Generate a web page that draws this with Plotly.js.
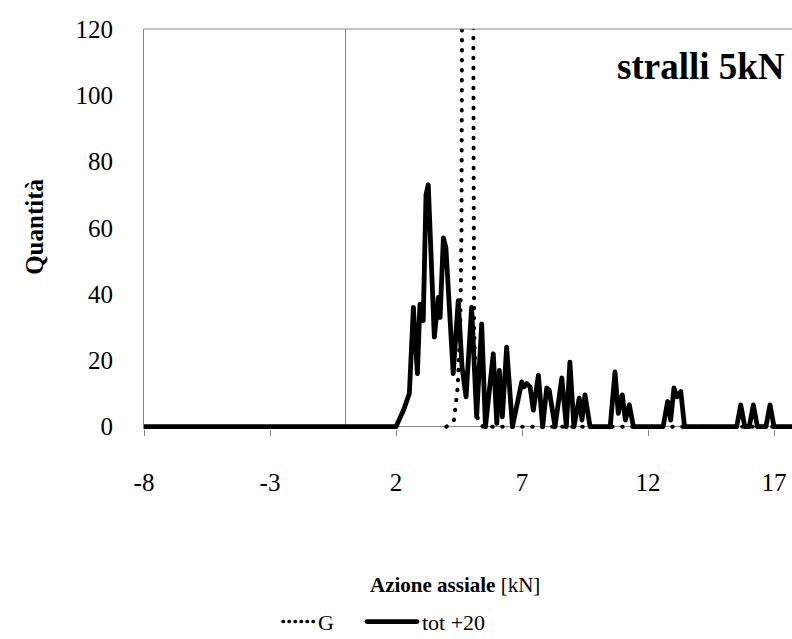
<!DOCTYPE html>
<html><head><meta charset="utf-8">
<script src="https://cdn.plot.ly/plotly-3.0.1.min.js"></script>
<style>
html,body{margin:0;padding:0;background:#fff;overflow:hidden}
path.js-line{stroke-linecap:round;stroke-linejoin:round}
</style>
</head><body>
<div id="chart" style="width:792px;height:639px"></div>
<script>
// Series "G" (dotted)
const gX = [4.0, 4.3, 4.45, 4.55, 4.6, 4.63, 4.65, 4.85, 5.05, 5.07, 5.1, 5.17, 5.25, 5.45, 17.8];
const gY = [0, 2, 12, 30, 60, 110, 600, 900, 600, 110, 30, 10, 2, 0, 0];
// Series "tot +20" (solid)
const totX = [-8, 2.0, 2.3, 2.53, 2.69, 2.85, 2.95, 3.08, 3.19, 3.28, 3.52, 3.68, 3.75, 3.88, 3.98,
  4.27, 4.47, 4.62, 4.78, 5.0, 5.2, 5.4, 5.55, 5.86, 6.0, 6.1, 6.22, 6.39, 6.62,
  6.99, 7.08, 7.19, 7.32, 7.45, 7.65, 7.82, 7.98, 8.08, 8.31, 8.58, 8.76, 8.9, 9.06,
  9.27, 9.38, 9.5, 9.7, 10.5, 10.69, 10.82, 10.98, 11.1, 11.26, 11.42, 12.6, 12.78,
  12.9, 13.03, 13.15, 13.3, 13.45, 15.52, 15.68, 15.84, 16.02, 16.18, 16.34, 16.68,
  16.84, 17.0, 17.8];
const totY = [0, 0, 5, 10, 36, 16, 37, 32, 70, 73, 27, 39, 33, 57, 54,
  16, 38, 18, 9, 36, 3, 31, 0, 22, 1, 17, 3, 24, 0,
  13.5, 12, 13, 12, 5, 15.5, 0, 11.7, 11, 0, 14.7, 0, 19.5, 0,
  8.6, 2, 9.6, 0, 0, 16.5, 4, 9.6, 2, 6.6, 0, 0, 7.6,
  2, 11.7, 9, 10.6, 0, 0, 6.6, 0, 0, 6.6, 0, 0,
  6.6, 0, 0];
const xTicks = [-8, -3, 2, 7, 12, 17];
const yTicks = [0, 20, 40, 60, 80, 100, 120];
const seriesNames = ['G', 'tot +20'];

const GRAY = '#868686';
const FONT = 'Liberation Serif, Times New Roman, serif';
const xRange = [-8, 17.714];
const yRange = [-0.7, 120];

const traces = [
  {x: gX, y: gY, name: seriesNames[0], type: 'scatter', mode: 'lines',
   line: {color: '#000', width: 4, dash: '0.5px,9.5px'}},
  {x: totX, y: totY, name: seriesNames[1], type: 'scatter', mode: 'lines',
   line: {color: '#000', width: 4.8}}
];

const layout = {
  width: 792, height: 639,
  margin: {l: 144, r: 0, t: 29, b: 210},
  paper_bgcolor: '#fff', plot_bgcolor: '#fff',
  font: {family: FONT, size: 22, color: '#000'},
  showlegend: true,
  legend: {orientation: 'h', xref: 'container', yref: 'container', x: 0.351, y: 0.027,
    xanchor: 'left', yanchor: 'middle', font: {family: FONT, size: 22, color: '#000'},
    itemwidth: 30, entrywidth: 59, entrywidthmode: 'pixels', bgcolor: 'rgba(0,0,0,0)'},
  xaxis: {range: xRange, tickvals: xTicks, ticktext: xTicks.map(String),
    ticks: 'outside', ticklen: 6, tickcolor: GRAY, tickwidth: 1,
    showline: false, showgrid: false, zeroline: true, zerolinecolor: GRAY, zerolinewidth: 1,
    ticklabelstandoff: 25, tickfont: {family: FONT, size: 25, color: '#000'}},
  yaxis: {range: yRange, tickvals: yTicks, ticktext: yTicks.map(String),
    ticks: '', showline: true, linecolor: GRAY, linewidth: 1, showgrid: false,
    zeroline: true, zerolinecolor: GRAY, zerolinewidth: 1,
    ticklabelstandoff: 25, tickfont: {family: FONT, size: 25, color: '#000'}},
  yaxis2: {range: yRange, overlaying: 'y', anchor: 'free', position: 8 / (xRange[1] - xRange[0]),
    side: 'left', tickvals: yTicks, ticks: 'outside', ticklen: 5, tickcolor: GRAY,
    showticklabels: false, showline: false, showgrid: false, zeroline: false},
  shapes: [
    {type: 'line', xref: 'paper', yref: 'paper', x0: 0, x1: 1, y0: 1, y1: 1,
     line: {color: GRAY, width: 1}}
  ],
  annotations: [
    {text: '<b>stralli 5kN</b>', xref: 'paper', yref: 'paper', x: 0.992, y: 0.905,
     xanchor: 'right', yanchor: 'middle', showarrow: false,
     font: {family: FONT, size: 37, color: '#000'}},
    {text: '<b>Azione assiale</b> [kN]', xref: 'paper', yref: 'paper', x: 0.48, y: -0.39,
     xanchor: 'center', yanchor: 'middle', showarrow: false,
     font: {family: FONT, size: 21, color: '#000'}},
    {text: '<b>Quantità</b>', xref: 'paper', yref: 'paper', x: -0.17, y: 0.505,
     xanchor: 'center', yanchor: 'middle', textangle: -90, showarrow: false,
     font: {family: FONT, size: 25, color: '#000'}}
  ]
};

Plotly.newPlot('chart', traces, layout, {displayModeBar: false, staticPlot: true}).then(function () {
  // adjust legend sample lengths to match the reference
  const items = document.querySelectorAll('.legend .traces');
  if (items.length > 1) {
    const p0 = items[0].querySelector('.legendlines path');
    if (p0) {
      p0.setAttribute('d', 'M5,0h31');
      p0.style.strokeDasharray = '0.5px,5.5px';
      p0.style.strokeWidth = '3.5px';
    }
    const p1 = items[1].querySelector('.legendlines path');
    if (p1) p1.setAttribute('d', 'M-15,0h50');
  }
});
</script>
</body></html>
